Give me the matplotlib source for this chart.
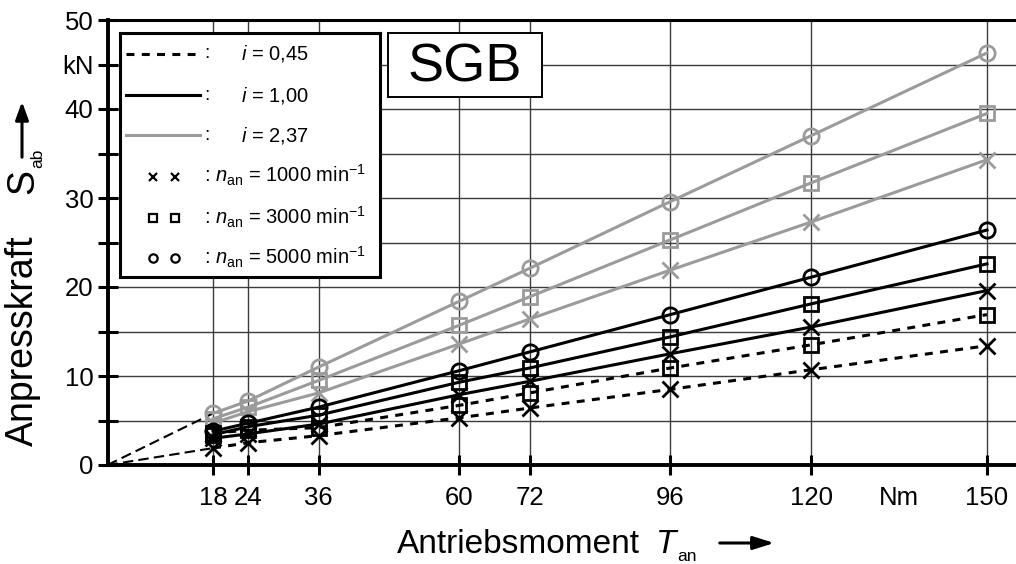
import matplotlib
matplotlib.use("Agg")
import matplotlib.pyplot as plt
from matplotlib import font_manager as fm

# ---------------- data ----------------
T = [18, 24, 36, 60, 72, 96, 120, 150]
x_tick_labels = ["18", "24", "36", "60", "72", "96", "120", "150"]
y_ticks = [0, 5, 10, 15, 20, 25, 30, 35, 40, 45, 50]
y_tick_labels = ["0", "", "10", "", "20", "", "30", "", "40", "kN", "50"]

# i = 0,45 (dashed black)
s045_n1000 = [1.9, 2.5, 3.3, 5.3, 6.4, 8.5, 10.7, 13.4]
s045_n3000 = [3.6, 3.9, 4.2, 6.7, 8.1, 10.9, 13.5, 16.9]
# i = 1,00 (solid black)
s100_n1000 = [3.0, 3.5, 4.6, 7.9, 9.4, 12.5, 15.5, 19.6]
s100_n3000 = [3.4, 4.3, 5.6, 9.3, 10.9, 14.4, 18.1, 22.6]
s100_n5000 = [3.8, 4.7, 6.5, 10.6, 12.7, 16.9, 21.1, 26.4]
# i = 2,37 (solid gray)
s237_n1000 = [4.7, 6.0, 8.1, 13.6, 16.4, 21.9, 27.3, 34.3]
s237_n3000 = [5.2, 6.5, 9.5, 15.7, 18.9, 25.3, 31.7, 39.5]
s237_n5000 = [5.8, 7.2, 11.0, 18.4, 22.1, 29.6, 37.0, 46.3]

legend_lines = ["0,45", "1,00", "2,37"]
legend_speeds = ["1000", "3000", "5000"]

# ---------------- fonts ----------------
names = {f.name for f in fm.fontManager.ttflist}
REG = "Liberation Sans"
if "Liberation Sans Narrow" in names:
    NARROW = "Liberation Sans Narrow"
    tick_fs, xlab_fs = 21, 28
else:
    NARROW = REG
    tick_fs, xlab_fs = 18.5, 24

plt.rcParams["font.family"] = [REG, "DejaVu Sans"]
plt.rcParams["mathtext.fontset"] = "custom"
plt.rcParams["mathtext.rm"] = REG
plt.rcParams["mathtext.it"] = REG + ":italic"
plt.rcParams["mathtext.bf"] = REG + ":bold"

W, H = 1016, 564
fig = plt.figure(figsize=(W / 100, H / 100), dpi=100)


def fx(px):
    return px / W


def fy(py):
    return 1 - py / H


x0_px, x_scale = 107.5, 5.863
ax = fig.add_axes([fx(x0_px), fy(465), 1 - fx(x0_px), (465 - 20) / H])
ax.set_xlim(0, (W - x0_px) / x_scale)
ax.set_ylim(0, 50)

GRAY = "#9b9b9b"
LW = 2.2
MS = 11
MEW = 2.0

# extrapolation lines to origin
ax.plot([0, T[0]], [0, s237_n5000[0]], color="k", lw=1.5, dashes=(5, 2.5), zorder=3)
ax.plot([0, T[0]], [0, s045_n1000[0]], color="k", lw=1.5, dashes=(5, 2.5), zorder=3)

gray_series = [(s237_n1000, "x"), (s237_n3000, "s"), (s237_n5000, "o")]
black_series = [(s100_n1000, "x"), (s100_n3000, "s"), (s100_n5000, "o")]
dashed_series = [(s045_n1000, "x"), (s045_n3000, "s")]


def msize(m):
    return {"x": MS, "s": MS - 1, "o": MS}[m]


for vals, m in gray_series:
    ax.plot(T, vals, color=GRAY, lw=LW, marker=m, ms=msize(m), mew=MEW,
            mfc="none", mec=GRAY, zorder=4)
for vals, m in dashed_series:
    ax.plot(T, vals, color="k", lw=LW, dashes=(2.6, 2.4), marker=m, ms=msize(m),
            mew=MEW, mfc="none", mec="k", zorder=5)
for vals, m in black_series:
    ax.plot(T, vals, color="k", lw=LW, marker=m, ms=msize(m), mew=MEW,
            mfc="none", mec="k", zorder=5)

# axes styling
for side in ["left", "bottom"]:
    ax.spines[side].set_linewidth(2.8)
ax.spines["top"].set_linewidth(2.2)
ax.spines["right"].set_visible(False)

ax.set_xticks(T, x_tick_labels)
ax.set_xticks([135], ["Nm"], minor=True)
ax.set_yticks(y_ticks, y_tick_labels)
ax.tick_params(axis="both", which="major", direction="inout", length=14,
               width=2.2, labelsize=tick_fs, colors="k")
ax.tick_params(axis="x", which="major", pad=8)
ax.tick_params(axis="y", which="major", pad=3)
ax.tick_params(axis="x", which="minor", length=0, labelsize=tick_fs, pad=15)
for lab in ax.get_xticklabels(which="both") + ax.get_yticklabels():
    lab.set_fontfamily(NARROW)

ax.grid(True, which="major", color="#3c3c3c", lw=1.0)
ax.set_axisbelow(True)

# ---------------- legend (manual box) ----------------
lg = fig.add_axes([fx(120), fy(277), (380 - 120) / W, (277 - 33) / H])
lg.set_xlim(120, 380)
lg.set_ylim(277, 33)
lg.set_xticks([])
lg.set_yticks([])
for sp in lg.spines.values():
    sp.set_linewidth(2.2)
lg.set_zorder(10)

rows_line = [54, 95, 135]
rows_mark = [177, 218, 258]
leg_styles = [dict(color="k", dashes=(2.6, 2.4)), dict(color="k"), dict(color=GRAY)]
for yrow, lab, st in zip(rows_line, legend_lines, leg_styles):
    lg.plot([126, 200], [yrow, yrow], lw=LW, **st)
    lg.text(207, yrow, ":", fontsize=14, ha="center", va="center")
    lg.text(241, yrow + 6, "$i$ = " + lab, fontsize=14.5, ha="left", va="baseline")
for yrow, sp_lab, m in zip(rows_mark, legend_speeds, ["x", "s", "o"]):
    lg.plot([153, 175], [yrow, yrow], ls="none", marker=m, ms=6, mew=1.6,
            mfc="none", mec="k", color="k")
    lg.text(204, yrow + 6,
            r": $n_{\mathrm{an}}$ = " + sp_lab + r" min$^{-1}$",
            fontsize=14.5, ha="left", va="baseline")

# ---------------- SGB box ----------------
sg = fig.add_axes([fx(388), fy(97), (542 - 388) / W, (97 - 33) / H])
sg.set_xlim(388, 542)
sg.set_ylim(97, 33)
sg.set_xticks([])
sg.set_yticks([])
for sp in sg.spines.values():
    sp.set_linewidth(1.4)
sg.set_zorder(10)
sg.text(465, 82, "SGB", fontsize=39, ha="center", va="baseline")

# ---------------- axis labels ----------------
fig.text(fx(397), fy(553), "Antriebsmoment", fontsize=xlab_fs, family=NARROW,
         ha="left", va="baseline")
fig.text(fx(655), fy(553), r"$T$", fontsize=xlab_fs, ha="left", va="baseline")
fig.text(fx(677), fy(561), "an", fontsize=12.5, ha="left", va="baseline")
fig.add_artist(matplotlib.patches.FancyArrowPatch(
    (fx(717), fy(543)), (fx(777), fy(543)), transform=fig.transFigure,
    arrowstyle="-|>,head_length=0.7,head_width=0.22", mutation_scale=18,
    lw=2.2, color="k"))

fig.text(fx(23), fy(446), "Anpresskraft", fontsize=27,
         rotation=90, ha="center", va="bottom")
fig.text(fx(23), fy(194), "S", fontsize=27,
         rotation=90, ha="center", va="bottom")
fig.text(fx(38), fy(168), "ab", fontsize=12.5,
         rotation=90, ha="center", va="bottom")
fig.add_artist(matplotlib.patches.FancyArrowPatch(
    (fx(22), fy(160)), (fx(22), fy(99)), transform=fig.transFigure,
    arrowstyle="-|>,head_length=0.6,head_width=0.22", mutation_scale=18,
    lw=2.2, color="k"))

fig.savefig("out.png", dpi=100)
